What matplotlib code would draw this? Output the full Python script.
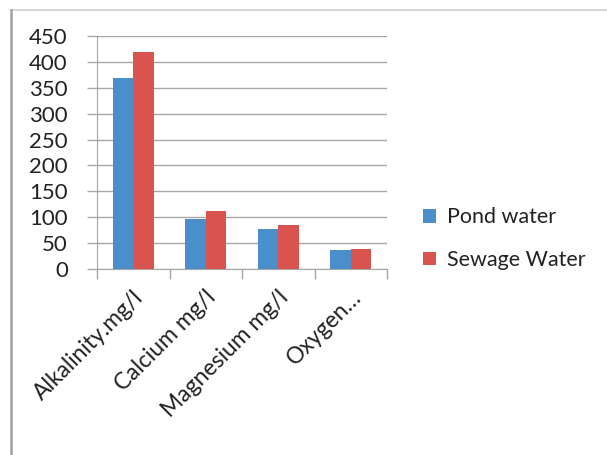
import matplotlib
matplotlib.use("Agg")
import matplotlib.pyplot as plt
import numpy as np
from matplotlib.lines import Line2D

categories = ["Alkalinity.mg/l", "Calcium mg/l", "Magnesium mg/l", "Oxygen\u2026"]
pond_water = [368, 96, 78, 37]
sewage_water = [420, 112, 85, 39]
series_names = ["Pond water", "Sewage Water"]
y_ticks = [0, 50, 100, 150, 200, 250, 300, 350, 400, 450]

plt.rcParams["font.family"] = ["Lato", "DejaVu Sans"]

W, H = 607, 455
fig = plt.figure(figsize=(W / 100, H / 100), dpi=100)
ax = fig.add_axes([97 / W, 1 - 269 / H, 290 / W, 233 / H])

x = np.arange(len(categories))
bw = 0.283
blue = "#4A8FCB"
red = "#D9534F"
ax.bar(x - bw / 2, pond_water, bw, color=blue, label=series_names[0], zorder=3)
ax.bar(x + bw / 2, sewage_water, bw, color=red, label=series_names[1], zorder=3)

ax.set_xlim(-0.5, len(categories) - 0.5)
ax.set_ylim(0, 450)
ax.set_yticks(y_ticks)
ax.set_yticklabels([str(v) for v in y_ticks], fontsize=16, color="#222222")
ax.yaxis.grid(True, color="#a6a6a6", linewidth=1.0, zorder=0)
ax.set_axisbelow(True)

# category boundary ticks on the x axis
ax.set_xticks(np.arange(len(categories) + 1) - 0.5)
ax.set_xticklabels([])
ax.tick_params(axis="x", direction="out", length=7, color="#a6a6a6", width=1)
ax.tick_params(axis="y", direction="out", length=7, color="#a6a6a6", width=1, pad=14)

for xi, lab in zip(x, categories):
    ax.annotate(lab, xy=(xi, 0), xycoords="data", xytext=(5, -18),
                textcoords="offset points", rotation=45, rotation_mode="anchor",
                ha="right", va="center", fontsize=16.5, color="#222222")

for side in ["top", "right"]:
    ax.spines[side].set_visible(False)
ax.spines["left"].set_color("#a6a6a6")
ax.spines["bottom"].set_color("#a6a6a6")

leg = fig.legend(loc="upper left", bbox_to_anchor=(404 / W, 1 - 188 / H),
                 frameon=False, fontsize=15.5, handlelength=0.6, handleheight=0.6,
                 handletextpad=0.5, labelspacing=1.05)
for t in leg.get_texts():
    t.set_color("#222222")

# outer frame lines
fig.add_artist(Line2D([11 / W, 1], [1 - 10 / H, 1 - 10 / H], transform=fig.transFigure,
                      color="#d0d0d0", linewidth=1.2))
fig.add_artist(Line2D([11 / W, 11 / W], [0, 1 - 10 / H], transform=fig.transFigure,
                      color="#a0a0a0", linewidth=1.8))

fig.savefig("out.png", dpi=100)
